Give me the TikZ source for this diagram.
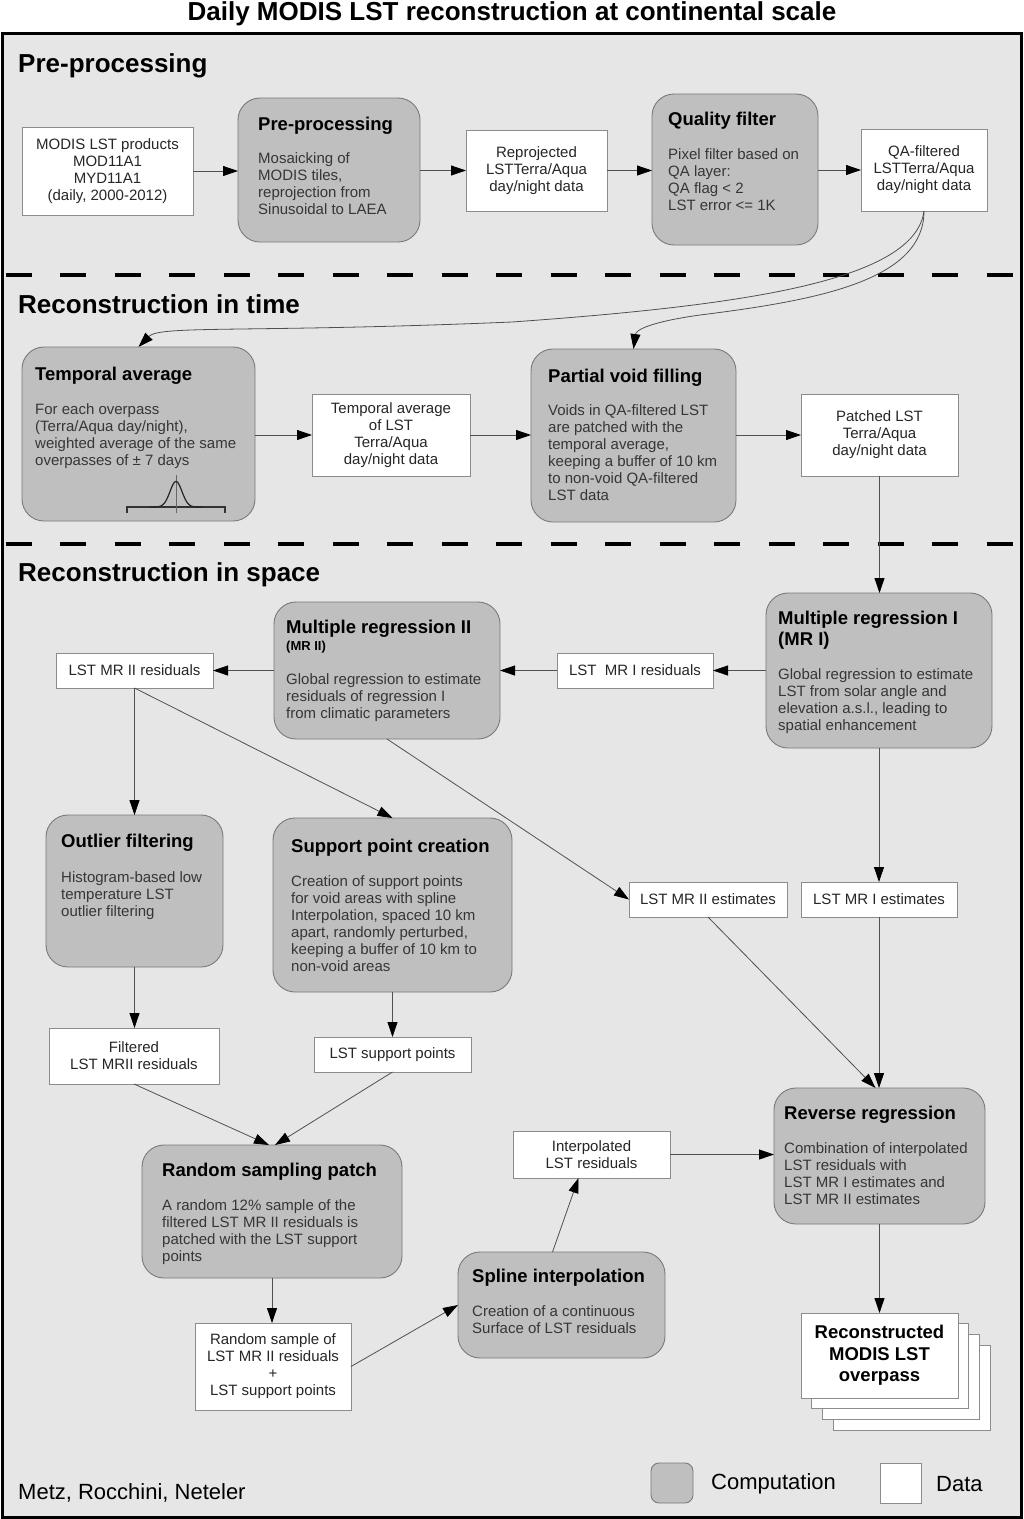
\documentclass[tikz,border=0pt]{standalone}
\usepackage{fontspec}
\setmainfont{Liberation Sans}
\usetikzlibrary{arrows.meta}
\definecolor{bg}{HTML}{E6E6E6}
\definecolor{compfill}{HTML}{BFBFBF}
\definecolor{compdraw}{HTML}{7A7A7A}
\definecolor{datadraw}{HTML}{8C8C8C}
\definecolor{linec}{HTML}{505050}
\definecolor{bodyc}{HTML}{363636}
\newcommand\setfs[2]{\fontsize{#1}{#2}\selectfont}
\newcommand\cbox[5]{\node[comp, minimum width={#4-#2}, minimum height={#5-#3}] (#1) at ({(#2+#4)/2},{(#3+#5)/2}) {};}
\newcommand\dbox[6]{\node[data, minimum width={#4-#2}, minimum height={#5-#3}] (#1) at ({(#2+#4)/2},{(#3+#5)/2}) {#6};}
\begin{document}
\begin{tikzpicture}[x=1pt,y=-1pt,
  comp/.style={draw=compdraw, fill=compfill, rounded corners=22pt, line width=0.9pt, inner sep=0pt, outer sep=0pt},
  data/.style={draw=datadraw, fill=white, line width=0.9pt, inner sep=0pt, outer sep=0pt, align=center, font=\setfs{15}{17}, text=black!85},
  ctitle/.style={anchor=north west, inner sep=0pt, align=left, font=\bfseries\setfs{18.5}{21}},
  cbody/.style={anchor=north west, inner sep=0pt, align=left, font=\setfs{15}{17}, text=bodyc},
  arr/.style={draw=linec, line width=0.8pt, -{Triangle[length=15pt,width=10pt,color=black]}},
  heading/.style={anchor=base west, inner sep=0pt, font=\bfseries\setfs{26}{30}},
  legtext/.style={anchor=west, inner sep=0pt, font=\setfs{22}{26}},
]
\useasboundingbox (0,0) rectangle (1024,1519);
\fill[white] (0,0) rectangle (1024,1519);
\draw[fill=bg, line width=3pt] (2.5,33) rectangle (1021.5,1517);
\node[anchor=base, inner sep=0pt, font=\bfseries\setfs{26}{30}] (title) at (512,20) {Daily MODIS LST reconstruction at continental scale};

\draw[line width=3.5pt, dash pattern=on 26pt off 28.5pt] (5.5,275) -- (1020,275);
\draw[line width=3.5pt, dash pattern=on 26pt off 28.5pt] (5.5,544) -- (1020,544);

\node[heading] (h1) at (18,72) {Pre-processing};
\node[heading] (h2) at (18,313) {Reconstruction in time};
\node[heading] (h3) at (18,581) {Reconstruction in space};

% ---------- Pre-processing ----------
\dbox{d1}{22}{127}{193}{215}{MODIS LST products\\MOD11A1\\MYD11A1\\(daily, 2000-2012)}
\cbox{c1}{238}{98}{420}{242}
\node[ctitle] (c1t) at (258,116.5) {Pre-processing};
\node[cbody] (c1b) at (258,152) {Mosaicking of\\MODIS tiles,\\reprojection from\\Sinusoidal to LAEA};
\dbox{d2}{466}{130}{607}{211}{Reprojected\\LSTTerra/Aqua\\day/night data}
\cbox{c2}{652}{94}{818}{245}
\node[ctitle] (c2t) at (668,111.5) {Quality filter};
\node[cbody] (c2b) at (668,148) {Pixel filter based on\\QA layer:\\QA flag < 2\\LST error <= 1K};
\dbox{d3}{861}{129}{987}{211}{QA-filtered\\LSTTerra/Aqua\\day/night data}

\draw[arr] (d1.east) -- (d1.east -| c1.west);
\draw[arr] (c1.east |- d2.west) -- (d2.west);
\draw[arr] (d2.east) -- (d2.east -| c2.west);
\draw[arr] (c2.east |- d3.west) -- (d3.west);

% ---------- Reconstruction in time ----------
\cbox{c3}{22}{347}{255}{521}
\node[ctitle] (c3t) at (35,366.5) {Temporal average};
\node[cbody] (c3b) at (35,403) {For each overpass\\(Terra/Aqua day/night),\\weighted average of the same\\overpasses of ± 7 days};
\draw[line width=1.2pt, black!80] (127,513) -- (127,507) -- (225,507) -- (225,513);
\draw[line width=0.6pt, black!60] (176,475) -- (176,513);
\draw[line width=1.2pt, black!85, domain=150:202, samples=80] plot (\x, {507-25.5*exp(-(((\x-176)/8.5)^2))});
\dbox{d4}{312}{394}{470}{476}{Temporal average\\of LST\\Terra/Aqua\\day/night data}
\cbox{c4}{531}{349}{736}{522}
\node[ctitle] (c4t) at (548,368.5) {Partial void filling};
\node[cbody] (c4b) at (548,404) {Voids in QA-filtered LST\\are patched with the\\temporal average,\\keeping a buffer of 10 km\\to non-void QA-filtered\\LST data};
\dbox{d5}{801}{394}{958}{476}{Patched LST\\Terra/Aqua\\day/night data}

\draw[arr] (d3.south) .. controls (915,280) and (750,305) .. (512,322) .. controls (250,333) and (160,325) .. (c3.north);
\draw[arr] (d3.south) .. controls (924,280) and (820,300) .. (700,315) .. controls (650,322) and (636,330) .. (c4.north);
\draw[arr] (c3.east |- d4.west) -- (d4.west);
\draw[arr] (d4.east) -- (d4.east -| c4.west);
\draw[arr] (c4.east |- d5.west) -- (d5.west);

% ---------- Reconstruction in space ----------
\cbox{c5}{766}{593}{992}{748}
\node[ctitle] (c5t) at (778,610.5) {Multiple regression I\\(MR I)};
\node[cbody] (c5b) at (778,668) {Global regression to estimate\\LST from solar angle and\\elevation a.s.l., leading to\\spatial enhancement};
\dbox{d6}{557}{653}{713}{688}{LST\ \ MR I residuals}
\cbox{c6}{274}{602}{500}{739}
\node[ctitle] (c6t) at (286,619.5) {Multiple regression II\\[-4pt]{\setfs{13}{15}(MR II)}};
\node[cbody] (c6b) at (286,673) {Global regression to estimate\\residuals of regression I\\from climatic parameters};
\dbox{d7}{56}{653}{213}{688}{LST MR II residuals}
\dbox{d8}{629}{882}{787}{917}{LST MR II estimates}
\dbox{d9}{801}{882}{957}{917}{LST MR I estimates}
\cbox{c7}{46}{815}{223}{967}
\node[ctitle] (c7t) at (61,833.5) {Outlier filtering};
\node[cbody] (c7b) at (61,871) {Histogram-based low\\temperature LST\\outlier filtering};
\cbox{c8}{273}{818}{512}{992}
\node[ctitle] (c8t) at (291,838.5) {Support point creation};
\node[cbody] (c8b) at (291,875) {Creation of support points\\for void areas with spline\\Interpolation, spaced 10 km\\apart, randomly perturbed,\\keeping a buffer of 10 km to\\non-void areas};
\dbox{d10}{49}{1028}{219}{1084}{Filtered\\LST MRII residuals}
\dbox{d11}{314}{1037}{471}{1072}{LST support points}
\cbox{c9}{142}{1145}{402}{1278}
\node[ctitle] (c9t) at (162,1162.5) {Random sampling patch};
\node[cbody] (c9b) at (162,1199) {A random 12\% sample of the\\filtered LST MR II residuals is\\patched with the LST support\\points};
\dbox{d12}{195}{1323}{351}{1410}{Random sample of\\LST MR II residuals\\+\\LST support points}
\cbox{c10}{458}{1252}{665}{1358}
\node[ctitle] (c10t) at (472,1268.5) {Spline interpolation};
\node[cbody] (c10b) at (472,1305) {Creation of a continuous\\Surface of LST residuals};
\dbox{d13}{513}{1131}{670}{1178}{Interpolated\\LST residuals}
\cbox{c11}{774}{1088}{985}{1224}
\node[ctitle] (c11t) at (784,1105.5) {Reverse regression};
\node[cbody] (c11b) at (784,1142) {Combination of interpolated\\LST residuals with\\LST MR I estimates and\\LST MR II estimates};

\foreach \k in {3,2,1}
  \draw[datadraw, fill=white, line width=0.9pt] ({801+10.7*\k},{1313+10.7*\k}) rectangle ++(157,85);
\node[data, font=\bfseries\setfs{18.5}{21.5}, text=black, minimum width=157, minimum height=85] (d14) at (879.5,1355.5) {Reconstructed\\MODIS LST\\overpass};

\draw[arr] (d5.south) -- (d5.south |- c5.north);
\draw[arr] (c5.west |- d6.east) -- (d6.east);
\draw[arr] (d6.west) -- (d6.west -| c6.east);
\draw[arr] (c6.west |- d7.east) -- (d7.east);
\draw[arr] (c5.south) -- (c5.south |- d9.north);
\draw[arr] (c6.south) -- (d8.west);
\draw[arr] (d7.south) -- (d7.south |- c7.north);
\draw[arr] (d7.south) -- (c8.north);
\draw[arr] (c7.south) -- (c7.south |- d10.north);
\draw[arr] (c8.south) -- (c8.south |- d11.north);
\draw[arr] (d10.south) -- ([xshift=-3pt]c9.north);
\draw[arr] (d11.south) -- ([xshift=3pt]c9.north);
\draw[arr] (c9.south) -- (c9.south |- d12.north);
\draw[arr] (d12.east) -- (c10.west);
\draw[arr] ([xshift=-9pt]c10.north) -- ([xshift=-13pt]d13.south);
\draw[arr] (d13.east) -- (d13.east -| c11.west);
\draw[arr] (d9.south) -- (d9.south |- c11.north);
\draw[arr] (d8.south) -- ([xshift=-4pt]c11.north);
\draw[arr] (c11.south) -- (c11.south |- d14.north);

% ---------- legend & footer ----------
\node[comp, rounded corners=8pt, minimum width=42, minimum height=40] (lc) at (672,1483) {};
\node[legtext] (lct) at (711,1484) {Computation};
\node[data, minimum width=41, minimum height=40] (ld) at (900.5,1483) {};
\node[legtext] (ldt) at (936,1484) {Data};
\node[legtext] (auth) at (18,1493) {Metz, Rocchini, Neteler};
\end{tikzpicture}
\end{document}
